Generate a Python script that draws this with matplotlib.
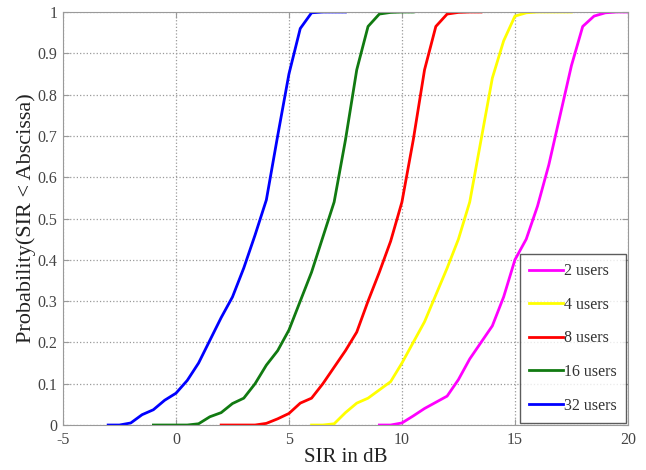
import matplotlib
matplotlib.use("Agg")
import matplotlib.pyplot as plt

# Data
x_32 = [-3, -2.5, -2, -1.5, -1, -0.5, 0, 0.5, 1, 1.5, 2, 2.5, 3, 3.5, 4, 4.5, 5, 5.5, 6, 6.5, 7, 7.5]
y_32 = [0, 0, 0.005, 0.025, 0.037, 0.06, 0.077, 0.108, 0.15, 0.205, 0.26, 0.31, 0.38, 0.46, 0.545, 0.7, 0.85, 0.96, 0.998, 1, 1, 1]

x_16 = [-1, -0.5, 0, 0.5, 1, 1.5, 2, 2.5, 3, 3.5, 4, 4.5, 5, 5.5, 6, 6.5, 7, 7.5, 8, 8.5, 9, 9.5, 10, 10.5]
y_16 = [0, 0, 0, 0, 0.003, 0.02, 0.03, 0.052, 0.065, 0.1, 0.145, 0.18, 0.23, 0.3, 0.37, 0.455, 0.54, 0.69, 0.86, 0.965, 0.995, 0.999, 1, 1]

x_8 = [2, 2.5, 3, 3.5, 4, 4.5, 5, 5.5, 6, 6.5, 7, 7.5, 8, 8.5, 9, 9.5, 10, 10.5, 11, 11.5, 12, 12.5, 13, 13.5]
y_8 = [0, 0, 0, 0, 0.004, 0.015, 0.028, 0.053, 0.065, 0.1, 0.14, 0.18, 0.225, 0.3, 0.37, 0.445, 0.54, 0.69, 0.86, 0.965, 0.995, 0.999, 1, 1]

x_4 = [6, 6.5, 7, 7.5, 8, 8.5, 9, 9.5, 10, 10.5, 11, 11.5, 12, 12.5, 13, 13.5, 14, 14.5, 15, 15.5, 16, 16.5, 17, 17.5]
y_4 = [0, 0, 0.003, 0.03, 0.053, 0.065, 0.085, 0.105, 0.15, 0.2, 0.25, 0.315, 0.38, 0.45, 0.54, 0.69, 0.84, 0.93, 0.99, 0.998, 1, 1, 1, 1]

x_2 = [9, 9.5, 10, 10.5, 11, 11.5, 12, 12.5, 13, 13.5, 14, 14.5, 15, 15.5, 16, 16.5, 17, 17.5, 18, 18.5, 19, 19.5, 20]
y_2 = [0, 0, 0.005, 0.022, 0.04, 0.055, 0.07, 0.11, 0.16, 0.2, 0.24, 0.31, 0.4, 0.45, 0.53, 0.63, 0.75, 0.87, 0.965, 0.99, 0.998, 1, 1]

series = [
    ("2 users", x_2, y_2, "#ff00ff"),
    ("4 users", x_4, y_4, "#ffff00"),
    ("8 users", x_8, y_8, "#ff0000"),
    ("16 users", x_16, y_16, "#117a11"),
    ("32 users", x_32, y_32, "#0000ff"),
]

xticks = [-5, 0, 5, 10, 15, 20]
xtick_labels = ["-5", "0", "5", "10", "15", "20"]
yticks = [0, 0.1, 0.2, 0.3, 0.4, 0.5, 0.6, 0.7, 0.8, 0.9, 1]
ytick_labels = ["0", "0.1", "0.2", "0.3", "0.4", "0.5", "0.6", "0.7", "0.8", "0.9", "1"]

plt.rcParams['font.family'] = ['Liberation Serif', 'DejaVu Serif']
plt.rcParams['axes.unicode_minus'] = False

fig = plt.figure(figsize=(6.46, 4.70), dpi=100)
ax = fig.add_axes([0.0975, 0.0957, 0.8745, 0.8788])

for label, xs, ys, c in series:
    ax.plot(xs, ys, color=c, lw=2, label=label)

ax.set_xlim(-5, 20)
ax.set_ylim(0, 1)
ax.set_xticks(xticks)
ax.set_xticklabels(xtick_labels)
ax.set_yticks(yticks)
ax.set_yticklabels(ytick_labels)
ax.grid(True, linestyle=':', color='#9a9a9a', lw=0.9)
ax.tick_params(direction='in', labelsize=11.5, colors='#9a9a9a', labelcolor='#444444',
               length=4, top=True, right=True)
ax.tick_params(axis='x', pad=5)
ax.tick_params(axis='y', pad=4)
for s in ax.spines.values():
    s.set_color('#9a9a9a')

ax.set_xlabel("SIR in dB", fontsize=15, color='#222222', labelpad=0)
ax.set_ylabel("Probability(SIR < Abscissa)", fontsize=16, color='#222222', labelpad=1)

leg = ax.legend(loc='lower right', fontsize=11.5, frameon=True, fancybox=False,
                edgecolor='#333333', handlelength=2.1, handletextpad=0.05,
                labelspacing=1.1, borderpad=0.6, borderaxespad=0.12)
leg.get_frame().set_linewidth(1.0)
for t in leg.get_texts():
    t.set_color('#333333')

fig.savefig("out.png", dpi=100)
